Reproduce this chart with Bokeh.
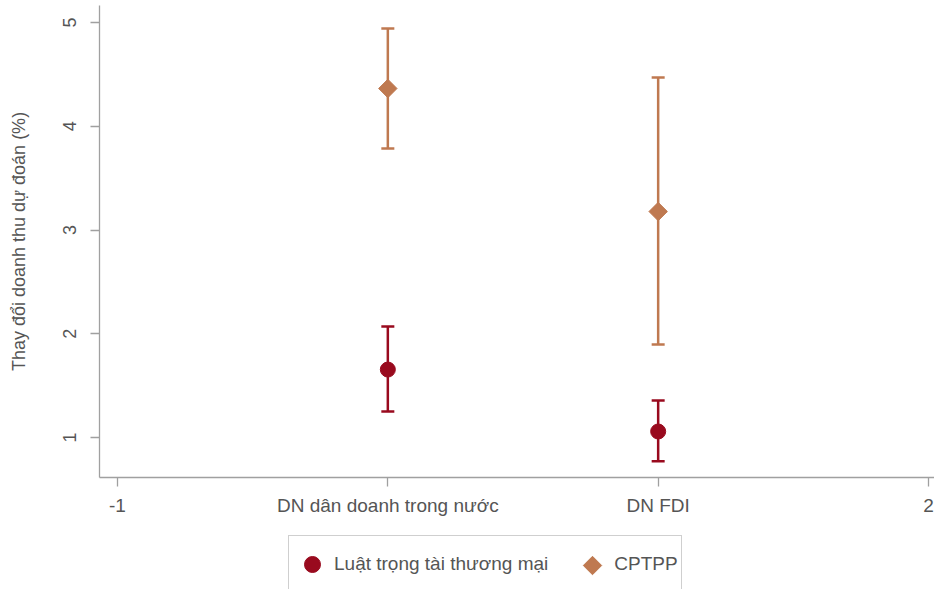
from bokeh.plotting import figure
from bokeh.layouts import column
from bokeh.models import (Range1d, FixedTicker, Whisker, TeeHead, ColumnDataSource,
                          Legend, LegendItem)
from bokeh.embed import file_html
from bokeh.resources import INLINE

# ---- data ----
group_pos = [0, 1]
group_names = ["DN dân doanh trong nước", "DN FDI"]
series_names = ["Luật trọng tài thương mại", "CPTPP"]
law_est = [1.655, 1.058]
law_lo = [1.25, 0.77]
law_hi = [2.07, 1.357]
cptpp_est = [4.364, 3.178]
cptpp_lo = [3.786, 1.896]
cptpp_hi = [4.942, 4.47]
x_ticks = [-1, 0, 1, 2]
x_tick_labels = ["-1", "DN dân doanh trong nước", "DN FDI", "2"]
y_ticks = [1, 2, 3, 4, 5]
y_tick_labels = ["1", "2", "3", "4", "5"]
y_label = "Thay đổi doanh thu dự đoán (%)"

RED = "#990a1e"
ORANGE = "#bf7950"
TEXT = "#555555"
AXIS = "#a0a0a0"
FONT = "Liberation Sans"

p = figure(width=934, height=527, output_backend="svg", toolbar_location=None,
           x_range=Range1d(-1.0666, 2.0222), y_range=Range1d(0.6145, 5.164),
           min_border_left=99, min_border_right=0, min_border_top=5,
           min_border_bottom=50)
p.outline_line_color = None
p.xgrid.visible = False
p.ygrid.visible = False

law_src = ColumnDataSource(dict(x=group_pos, y=law_est, lo=law_lo, hi=law_hi))
cp_src = ColumnDataSource(dict(x=group_pos, y=cptpp_est, lo=cptpp_lo, hi=cptpp_hi))

for src, col in ((law_src, RED), (cp_src, ORANGE)):
    w = Whisker(base="x", upper="hi", lower="lo", source=src, dimension="height",
                line_color=col, line_width=2.5,
                upper_head=TeeHead(size=13, line_color=col, line_width=2.5),
                lower_head=TeeHead(size=13, line_color=col, line_width=2.5))
    p.add_layout(w)

p.scatter("x", "y", source=law_src, marker="circle", size=15,
          fill_color=RED, line_color=RED)
p.scatter("x", "y", source=cp_src, marker="square", size=13, angle=0.785398,
          fill_color=ORANGE, line_color=ORANGE)

# axes
p.xaxis.ticker = FixedTicker(ticks=x_ticks)
p.xaxis.major_label_overrides = {t: l for t, l in zip(x_ticks, x_tick_labels)}
p.yaxis.ticker = FixedTicker(ticks=y_ticks)
p.yaxis.major_label_overrides = {t: l for t, l in zip(y_ticks, y_tick_labels)}
p.yaxis.major_label_orientation = "vertical"
p.yaxis.axis_label = y_label
for ax in (p.xaxis, p.yaxis):
    ax.axis_line_color = AXIS
    ax.axis_line_width = 1.3
    ax.major_tick_line_color = AXIS
    ax.major_tick_line_width = 1.3
    ax.major_tick_out = 9
    ax.major_tick_in = 0
    ax.minor_tick_line_color = None
    ax.major_label_text_font = FONT
    ax.major_label_text_color = TEXT
    ax.axis_label_text_font = FONT
    ax.axis_label_text_font_size = "18px"
    ax.axis_label_text_font_style = "normal"
    ax.axis_label_text_color = TEXT
p.xaxis.major_label_text_font_size = "19px"
p.yaxis.major_label_text_font_size = "18px"
p.xaxis.major_label_standoff = 8
p.yaxis.major_label_standoff = 14
p.yaxis.axis_label_standoff = 32

# ---- legend strip below (screen-pixel ranges) ----
pl = figure(width=934, height=62, output_backend="svg", toolbar_location=None,
            x_range=Range1d(99, 934), y_range=Range1d(589, 527),
            min_border_left=0, min_border_right=0, min_border_top=0,
            min_border_bottom=0)
pl.axis.visible = False
pl.xgrid.visible = False
pl.ygrid.visible = False
pl.outline_line_color = None

# legend proxies (placed outside the visible range)
leg_src = ColumnDataSource(dict(x=[-100], y=[-100]))
lr_law = pl.scatter("x", "y", source=leg_src, marker="circle", size=15,
                    fill_color=RED, line_color=RED)
lr_cp = pl.scatter("x", "y", source=leg_src, marker="square", size=13,
                   fill_alpha=0, line_alpha=0)

legend = Legend(items=[LegendItem(label=series_names[0], renderers=[lr_law]),
                       LegendItem(label=series_names[1], renderers=[lr_cp])],
                orientation="horizontal", location=(189, -4),
                border_line_color=AXIS, border_line_width=1.3,
                background_fill_color=None,
                label_text_font=FONT, label_text_font_size="19px",
                label_text_color=TEXT, padding=3, spacing=24,
                label_standoff=2, glyph_width=40, glyph_height=50,
                label_height=50, margin=0)
pl.add_layout(legend, "center")

# rotated-square key for the CPTPP legend entry (legend layout position)
KEY_X, KEY_Y = 592, 565
key_src = ColumnDataSource(dict(x=[KEY_X], y=[KEY_Y]))
pl.scatter("x", "y", source=key_src, marker="square", size=13, angle=0.785398,
           fill_color=ORANGE, line_color=ORANGE)

layout = column(p, pl, spacing=0)
open("out.html", "w").write(file_html(layout, INLINE))
